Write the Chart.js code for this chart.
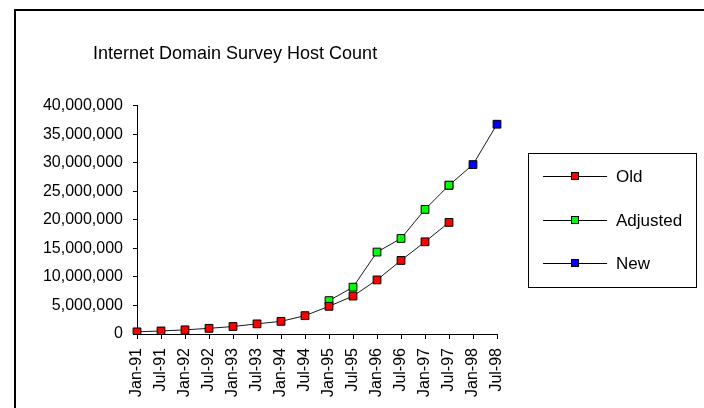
<!DOCTYPE html>
<html>
<head>
<meta charset="utf-8">
<title>Internet Domain Survey Host Count</title>
<script src="https://cdn.jsdelivr.net/npm/chart.js@4"></script>
<style>
body { margin: 0; background: #fff; }
</style>
</head>
<body>
<canvas id="myChart" width="704" height="408"></canvas>
<script>
// survey dates, every six months
const labels = ['Jan-91', 'Jul-91', 'Jan-92', 'Jul-92', 'Jan-93', 'Jul-93', 'Jan-94', 'Jul-94',
	'Jan-95', 'Jul-95', 'Jan-96', 'Jul-96', 'Jan-97', 'Jul-97', 'Jan-98', 'Jul-98'];

const oldHosts = [376000, 535000, 727000, 992000, 1313000, 1776000, 2217000, 3212000,
	4852000, 6642000, 9472000, 12881000, 16146000, 19540000, null, null];
const adjustedHosts = [null, null, null, null, null, null, null, null,
	5846000, 8200000, 14352000, 16729000, 21819000, 26053000, null, null];
// New starts where Adjusted ends (that marker sits under the green one)
const newHosts = [null, null, null, null, null, null, null, null,
	null, null, null, null, null, 26053000, 29670000, 36739000];

const yTicks = [0, 5000000, 10000000, 15000000, 20000000, 25000000, 30000000, 35000000, 40000000];

const FONT = 'Liberation Sans, Arial, sans-serif';
Chart.defaults.font.family = FONT;
Chart.defaults.color = '#000';

// white page + the old frame (top and left edges only, the rest is cut off)
const frame = {
	id: 'frame',
	// title is not centred over the plot in the original, it starts near the left
	afterLayout(chart) {
		chart.titleBlock.left = 93;
	},
	beforeDraw(chart) {
		const c = chart.ctx;
		c.save();
		c.fillStyle = '#fff';
		c.fillRect(0, 0, chart.width, chart.height);
		c.fillStyle = '#000';
		c.fillRect(14, 9, chart.width - 14, 2);
		c.fillRect(14, 9, 2, chart.height - 9);
		c.restore();
	}
};

// boxed legend on the right, line + square marker like Excel
const boxLegend = {
	id: 'boxLegend',
	afterDraw(chart) {
		const c = chart.ctx;
		c.save();
		c.strokeStyle = '#000';
		c.lineWidth = 1;
		c.strokeRect(528.5, 153.5, 168, 134);
		chart.data.datasets.forEach((ds, i) => {
			const y = Math.round(176 + i * 43.5);
			c.strokeStyle = '#000';
			c.beginPath();
			c.moveTo(543, y + 0.5);
			c.lineTo(607, y + 0.5);
			c.stroke();
			c.fillStyle = ds.pointBackgroundColor;
			c.fillRect(571.5, y - 3.5, 7, 7);
			c.strokeRect(571.5, y - 3.5, 7, 7);
			c.fillStyle = '#000';
			c.font = '17px ' + FONT;
			c.textBaseline = 'middle';
			c.fillText(ds.label, 616, y + 1);
		});
		c.restore();
	}
};

function series(label, data, color) {
	return {
		label: label,
		data: data,
		borderColor: '#1a1a1a',
		borderWidth: 1,
		pointStyle: 'rect',
		pointRadius: 5.5,
		pointBackgroundColor: color,
		pointBorderColor: '#000',
		pointBorderWidth: 1,
		tension: 0,
		spanGaps: false
	};
}

const ctx = document.getElementById('myChart');

new Chart(ctx, {
	type: 'line',
	data: {
		labels: labels,
		datasets: [
			series('Old', oldHosts, '#ff0000'),
			series('Adjusted', adjustedHosts, '#00ff00'),
			series('New', newHosts, '#0000ff')
		]
	},
	plugins: [frame, boxLegend],
	options: {
		responsive: false,
		animation: false,
		devicePixelRatio: 1,
		layout: {
			padding: { left: 0, right: 207, top: 0, bottom: 0 }
		},
		plugins: {
			legend: { display: false },
			tooltip: { enabled: false },
			title: {
				display: true,
				text: 'Internet Domain Survey Host Count',
				align: 'start',
				color: '#000',
				font: { family: FONT, size: 18, weight: 'normal' },
				padding: { top: 43, bottom: 41 }
			}
		},
		scales: {
			x: {
				offset: false,
				grid: { drawOnChartArea: false, drawTicks: true, tickLength: 5, color: '#000' },
				border: { color: '#000', width: 1 },
				ticks: {
					autoSkip: false,
					maxRotation: 90,
					minRotation: 90,
					padding: 9,
					font: { size: 16 }
				},
				afterFit(scale) { scale.height = 74; }
			},
			y: {
				min: 0,
				max: 40000000,
				grid: { drawOnChartArea: false, drawTicks: true, tickLength: 4, color: '#000' },
				border: { color: '#000', width: 1 },
				ticks: {
					padding: 10,
					font: { size: 16 },
					callback: v => v.toLocaleString('en-US')
				},
				afterBuildTicks(scale) { scale.ticks = yTicks.map(v => ({ value: v })); },
				afterFit(scale) { scale.width = 137; }
			}
		}
	}
});
</script>
</body>
</html>
